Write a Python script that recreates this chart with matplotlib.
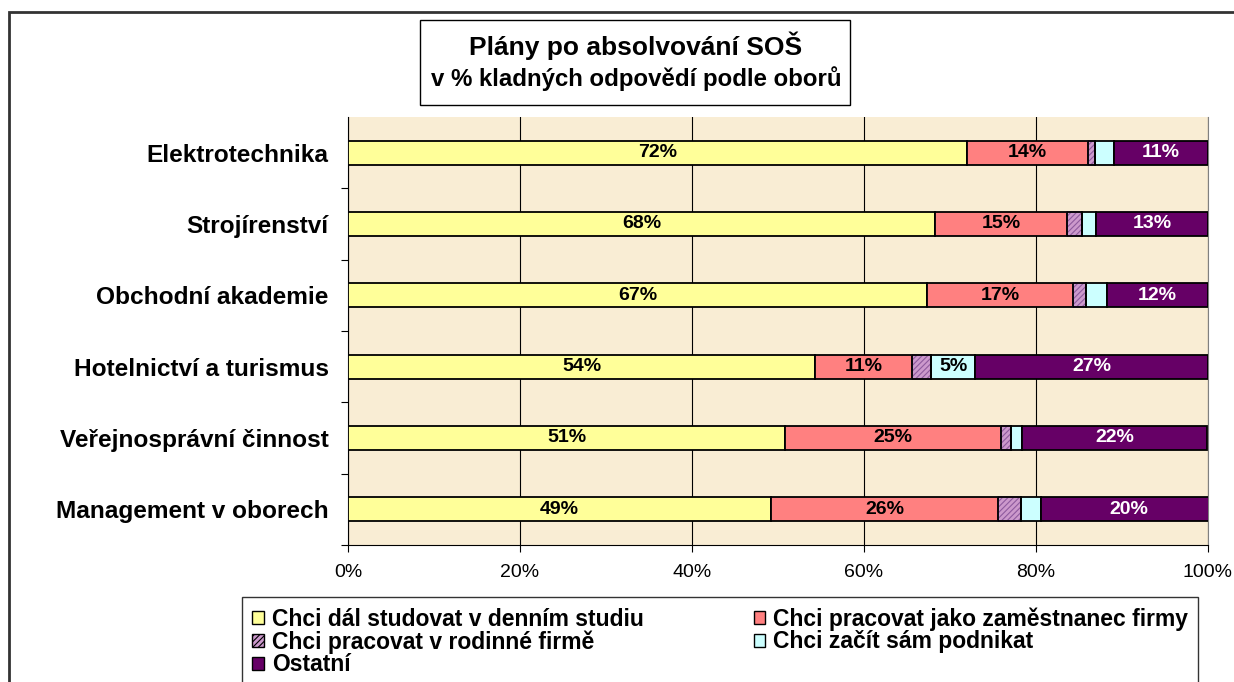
import numpy as np
import matplotlib
matplotlib.use("Agg")
import matplotlib.pyplot as plt
from matplotlib.patches import Rectangle, Patch

plt.rcParams['font.family'] = ['Liberation Sans', 'DejaVu Sans']
plt.rcParams['hatch.linewidth'] = 0.8

# --- data (percent of positive answers) ---
obory = ["Elektrotechnika", "Strojírenství", "Obchodní akademie",
         "Hotelnictví a turismus", "Veřejnosprávní činnost", "Management v oborech"]
studovat = [72.0, 68.3, 67.3, 54.3, 50.8, 49.2]
zamestnanec = [14.0, 15.3, 17.0, 11.3, 25.1, 26.4]
rodinna = [0.85, 1.8, 1.5, 2.2, 1.2, 2.6]
podnikat = [2.2, 1.6, 2.4, 5.1, 1.3, 2.4]
ostatni = [10.9, 13.0, 11.8, 27.1, 21.5, 20.3]

series = [
    ("Chci dál studovat v denním studiu", studovat, '#FFFF99', None, 'black'),
    ("Chci pracovat jako zaměstnanec firmy", zamestnanec, '#FF8080', None, 'black'),
    ("Chci pracovat v rodinné firmě", rodinna, '#CC99CC', '//////', None),
    ("Chci začít sám podnikat", podnikat, '#CCFFFF', None, 'black'),
    ("Ostatní", ostatni, '#660066', None, 'white'),
]
# which segments carry a value label (as in the original chart)
show_label = {
    0: [True] * 6,
    1: [True] * 6,
    2: [False] * 6,
    3: [False, False, False, True, False, False],
    4: [True] * 6,
}

fig = plt.figure(figsize=(12.34, 6.82), dpi=100)
ax = fig.add_axes([348 / 1234, 1 - 545 / 682, 860 / 1234, 428 / 682])
ax.set_facecolor('#F9EDD4')

y = np.arange(len(obory))
left = np.zeros(len(obory))
handles = []
for i, (name, vals, color, hatch, tcolor) in enumerate(series):
    vals = np.array(vals)
    bars = ax.barh(y, vals, left=left, height=0.34, color=color, edgecolor='black',
                   linewidth=1.3, hatch=hatch, zorder=3)
    if hatch:
        for b in bars:
            b.set_edgecolor('#8E5A9E')
        ax.barh(y, vals, left=left, height=0.34, color='none', edgecolor='black',
                linewidth=1.3, zorder=4)
    for j, b in enumerate(bars):
        if show_label[i][j]:
            ax.text(left[j] + vals[j] / 2, y[j], f"{round(vals[j]):.0f}%", ha='center',
                    va='center', fontsize=14, fontweight='bold', color=tcolor, zorder=5)
    handles.append(Patch(facecolor=color, edgecolor='black', hatch=hatch, linewidth=1, label=name))
    left += vals

ax.set_xlim(0, 100)
ax.set_ylim(len(obory) - 0.5, -0.5)
ax.set_xticks(np.arange(0, 101, 20))
ax.set_xticklabels([f"{v}%" for v in range(0, 101, 20)], fontsize=14)
ax.set_yticks(y)
ax.set_yticklabels(obory, fontsize=17.6, fontweight='bold')
ax.set_yticks(np.arange(0.5, len(obory), 1), minor=True)
ax.tick_params(axis='y', which='major', length=0, pad=14)
ax.tick_params(axis='y', which='minor', length=5, width=0.8)
ax.tick_params(axis='x', length=5, width=0.8, pad=9)
ax.xaxis.grid(True, color='black', linewidth=0.8, zorder=1)
ax.set_axisbelow(True)
ax.spines['top'].set_visible(False)
ax.spines['right'].set_color('#808080')
ax.spines['left'].set_linewidth(0.8)
ax.spines['bottom'].set_linewidth(0.8)

# outer chart border
fig.patches.append(Rectangle((9 / 1234, -0.1), 1.2, 1 - 12 / 682 + 0.1, transform=fig.transFigure,
                             fill=False, edgecolor='#333333', linewidth=2))

# title box
fig.patches.append(Rectangle((420 / 1234, 1 - 105 / 682), 430 / 1234, 85 / 682,
                             transform=fig.transFigure, facecolor='white',
                             edgecolor='black', linewidth=1))
fig.text(636 / 1234, 1 - 46 / 682, "Plány po absolvování SOŠ", ha='center', va='center',
         fontsize=19, fontweight='bold')
fig.text(636 / 1234, 1 - 79 / 682, "v % kladných odpovědí podle oborů", ha='center',
         va='center', fontsize=17.3, fontweight='bold')

# legend, filled row by row
order = [0, 2, 4, 1, 3]
leg = fig.legend([handles[k] for k in order], [handles[k].get_label() for k in order],
                 ncol=2, loc='upper left', bbox_to_anchor=(242 / 1234, 1 - 597 / 682),
                 prop={'weight': 'bold', 'size': 16.5}, frameon=True, fancybox=False,
                 edgecolor='black', handlelength=0.5, handleheight=0.5, handletextpad=0.35,
                 labelspacing=-0.02, columnspacing=4.8, borderpad=0.45, borderaxespad=0)
leg.get_frame().set_linewidth(1)

fig.savefig("out.png", dpi=100, facecolor='white')
